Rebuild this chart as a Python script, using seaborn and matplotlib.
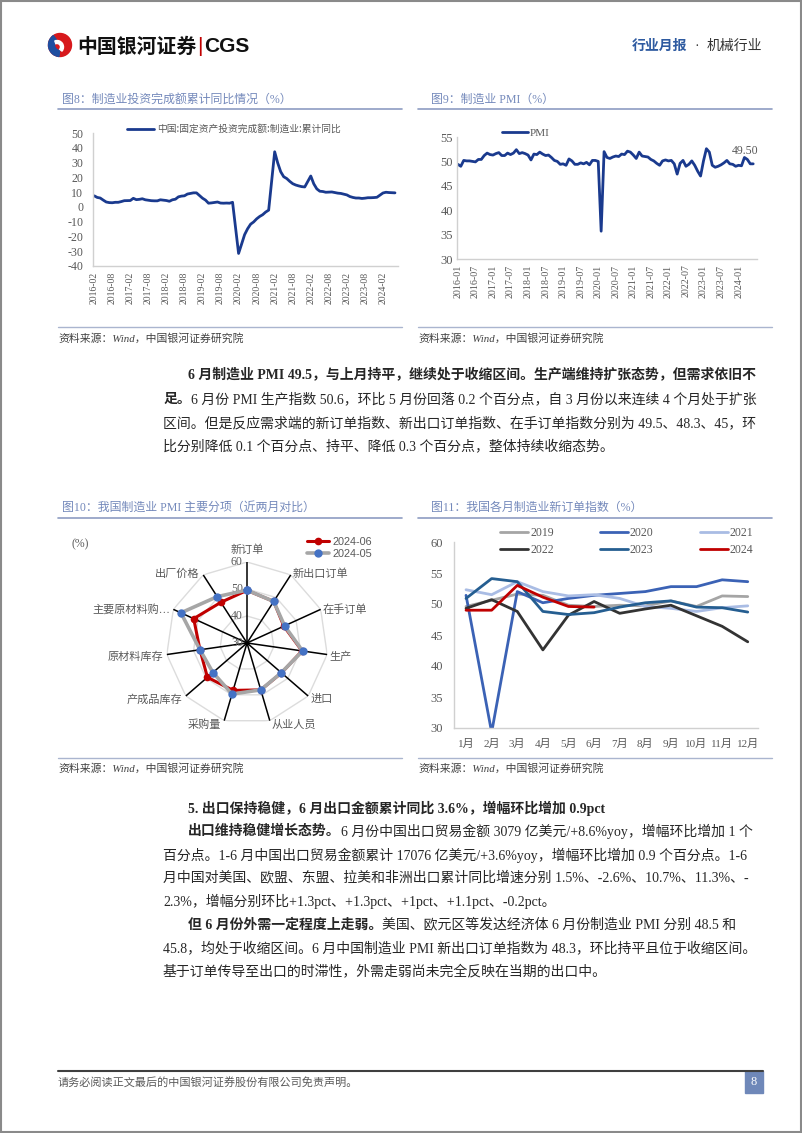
import numpy as np
import pandas as pd
import matplotlib
matplotlib.use("Agg")
import matplotlib.pyplot as plt
import seaborn as sns
from matplotlib.patches import Rectangle, Circle, Wedge

W, H = 802, 1133

# ---------------- data ----------------
# Fig 8: manufacturing FAI, cumulative YoY (%), Feb..Dec each year (no Jan), 2024 to Jun
fai_years = [2016, 2017, 2018, 2019, 2020, 2021, 2022, 2023, 2024]
fai_2016 = [7.5, 6.4, 6.0, 4.6, 3.3, 2.9, 2.8, 3.1, 3.1, 3.6, 4.2]
fai_2017 = [4.3, 5.8, 4.9, 5.1, 5.5, 4.8, 4.5, 4.2, 4.1, 4.1, 4.8]
fai_2018 = [4.3, 3.8, 4.8, 5.2, 6.8, 7.3, 7.5, 8.7, 9.1, 9.5, 9.5]
fai_2019 = [5.9, 4.6, 2.5, 2.7, 3.0, 3.3, 2.6, 2.5, 2.6, 2.5, 3.1]
fai_2020 = [-31.5, -25.2, -18.8, -14.8, -11.7, -10.2, -8.1, -6.5, -5.3, -3.5, -2.2]
fai_2021 = [37.3, 29.8, 23.8, 20.4, 19.2, 17.3, 15.7, 14.8, 14.2, 13.7, 13.5]
fai_2022 = [20.9, 15.6, 12.2, 10.6, 10.4, 9.9, 10.0, 10.1, 9.7, 9.3, 9.1]
fai_2023 = [8.1, 7.0, 6.4, 6.0, 6.0, 5.7, 5.9, 6.2, 6.2, 6.3, 6.5]
fai_2024 = [9.4, 9.9, 9.7, 9.6, 9.5]
fai_ticklabels = ["2016-02", "2016-08", "2017-02", "2017-08", "2018-02", "2018-08",
                  "2019-02", "2019-08", "2020-02", "2020-08", "2021-02", "2021-08",
                  "2022-02", "2022-08", "2023-02", "2023-08", "2024-02"]
fai_label = "中国:固定资产投资完成额:制造业:累计同比"

# Fig 9: manufacturing PMI monthly 2016-01 .. 2024-06
pmi_2016 = [49.4, 49.0, 50.2, 50.1, 50.1, 50.0, 49.9, 50.4, 50.4, 51.2, 51.7, 51.4]
pmi_2017 = [51.3, 51.6, 51.8, 51.2, 51.2, 51.7, 51.4, 51.7, 52.4, 51.6, 51.8, 51.6]
pmi_2018 = [51.3, 50.3, 51.5, 51.4, 51.9, 51.5, 51.2, 51.3, 50.8, 50.2, 50.0, 49.4]
pmi_2019 = [49.5, 49.2, 50.5, 50.1, 49.4, 49.4, 49.7, 49.5, 49.8, 49.3, 50.2, 50.2]
pmi_2020 = [50.0, 35.7, 52.0, 50.8, 50.6, 50.9, 51.1, 51.0, 51.5, 51.4, 52.1, 51.9]
pmi_2021 = [51.3, 50.6, 51.9, 51.1, 51.0, 50.9, 50.4, 50.1, 49.6, 49.2, 50.1, 50.3]
pmi_2022 = [50.1, 50.2, 49.5, 47.4, 49.6, 50.2, 49.0, 49.4, 50.1, 49.2, 48.0, 47.0]
pmi_2023 = [50.1, 52.6, 51.9, 49.2, 48.8, 49.0, 49.3, 49.7, 50.2, 49.5, 49.4, 49.0]
pmi_2024 = [49.2, 49.1, 50.8, 50.4, 49.5, 49.5]
pmi_ticklabels = ["2016-01", "2016-07", "2017-01", "2017-07", "2018-01", "2018-07",
                  "2019-01", "2019-07", "2020-01", "2020-07", "2021-01", "2021-07",
                  "2022-01", "2022-07", "2023-01", "2023-07", "2024-01"]

# Fig 10: PMI sub-indices, radar
radar_cats = ["新订单", "新出口订单", "在手订单", "生产", "进口", "从业人员",
              "采购量", "产成品库存", "原材料库存", "主要原材料购…", "出厂价格"]
radar_jun = [49.5, 48.3, 45.0, 50.6, 46.9, 48.1, 48.3, 49.4, 47.6, 51.7, 47.9]
radar_may = [49.6, 48.3, 45.3, 50.8, 46.8, 48.1, 49.7, 46.7, 47.6, 56.9, 50.4]
radar_ticks = [30, 40, 50, 60]

# Fig 11: new order index by month
months_cn = ["1月", "2月", "3月", "4月", "5月", "6月", "7月", "8月", "9月", "10月", "11月", "12月"]
no_2019 = [49.6, 50.6, 51.6, 51.4, 49.8, 49.6, 49.8, 49.7, 50.5, 49.6, 51.3, 51.2]
no_2020 = [51.4, 29.3, 52.0, 50.2, 50.9, 51.4, 51.7, 52.0, 52.8, 52.8, 53.9, 53.6]
no_2021 = [52.3, 51.5, 53.6, 52.0, 51.3, 51.5, 50.9, 49.6, 49.3, 48.8, 49.4, 49.7]
no_2022 = [49.3, 50.7, 48.8, 42.6, 48.2, 50.4, 48.5, 49.2, 49.8, 48.1, 46.4, 43.9]
no_2023 = [50.9, 54.1, 53.6, 48.8, 48.3, 48.6, 49.5, 50.2, 50.5, 49.5, 49.4, 48.7]
no_2024 = [49.0, 49.0, 53.0, 51.1, 49.6, 49.5]
no_colors = {"2019": "#a5a5a5", "2020": "#3b62b5", "2021": "#a9bce4",
             "2022": "#333333", "2023": "#255e91", "2024": "#c00000"}

# ---------------- style ----------------
sns.set_theme(style="white")
plt.rcParams["font.family"] = ["Liberation Serif", "Noto Sans CJK SC", "DejaVu Sans"]
plt.rcParams["axes.unicode_minus"] = False

NAVY = "#1a3a8e"
GRAY_T = "#595959"
AX_C = "#d0d0d0"
TITLE_C = "#7489bb"
RULE_C = "#8d9cc2"
TEXT_C = "#262626"

fig = plt.figure(figsize=(W / 100, H / 100), dpi=100)
page = fig.add_axes([0, 0, 1, 1])
page.set_xlim(0, W)
page.set_ylim(H, 0)
page.axis("off")


def px_axes(x0, y0, x1, y1, **kw):
    return fig.add_axes([x0 / W, 1 - y1 / H, (x1 - x0) / W, (y1 - y0) / H], **kw)


def style_axes(ax):
    ax.patch.set_alpha(0)
    for s in ["top", "right"]:
        ax.spines[s].set_visible(False)
    for s in ["left", "bottom"]:
        ax.spines[s].set_color(AX_C)
        ax.spines[s].set_linewidth(1.0)
    ax.tick_params(length=0, colors=GRAY_T)
    ax.set_xlabel("")
    ax.set_ylabel("")


# ---------------- header ----------------
page.add_patch(Rectangle((0.75, 0.75), W - 1.5, H - 1.5, fill=False, ec="#8a8a8a", lw=1.5))
page.add_patch(Circle((60, 45), 11.5, color="#d7191c"))
page.add_patch(Wedge((60, 45), 11.5, 95, 235, width=6, color="#1f4ea0"))
page.add_patch(Wedge((57, 47), 6.5, 250, 40, width=3, color="white"))
page.text(77, 46, "中国银河证券", fontsize=14.3, fontweight="bold", color="#111111",
          va="center", ha="left", family=["Noto Sans CJK SC"])
page.text(200, 46, "|", fontsize=15, color="#c00000", va="center", ha="center",
          family=["Liberation Sans"])
page.text(204, 46, "CGS", fontsize=15, fontweight="bold", color="#111111",
          va="center", ha="left", family=["Liberation Sans"])
page.text(632, 46, "行业月报", fontsize=10, fontweight="bold", color="#2e5aa0",
          va="center", ha="left", family=["Noto Sans CJK SC"])
page.text(697, 46, "·", fontsize=10, color="#333333", va="center", ha="center")
page.text(762, 46, "机械行业", fontsize=10, color="#333333",
          va="center", ha="right", family=["Noto Sans CJK SC"])

# ---------------- figure titles / rules / sources ----------------
def fig_title(x, y, s):
    page.text(x, y, s, fontsize=8.6, color=TITLE_C, va="center", ha="left")


fig_title(62, 100, "图8：制造业投资完成额累计同比情况（%）")
fig_title(431, 100, "图9：制造业 PMI（%）")
fig_title(62, 508, "图10：我国制造业 PMI 主要分项（近两月对比）")
fig_title(431, 508, "图11：我国各月制造业新订单指数（%）")
for (x0, x1, y) in [(58, 402, 109), (418, 772, 109), (58, 402, 518), (418, 772, 518)]:
    page.plot([x0, x1], [y, y], color=RULE_C, lw=1.2)
for (x0, x1, y) in [(58, 402, 327), (418, 772, 327), (58, 402, 758), (418, 772, 758)]:
    page.plot([x0, x1], [y, y], color="#aab5cf", lw=1.0)
for (x, y) in [(58, 338), (418, 338), (58, 768), (418, 768)]:
    page.text(x, y, "资料来源：Wind，中国银河证券研究院", fontsize=7.8, color="#404040",
              style="italic", va="center", ha="left")

# ---------------- Fig 8 ----------------
fai_rows = [fai_2016, fai_2017, fai_2018, fai_2019, fai_2020, fai_2021, fai_2022, fai_2023, fai_2024]
fx, fy = [], []
for yr, vals in zip(fai_years, fai_rows):
    for i, v in enumerate(vals):
        fx.append((yr - 2016) * 12 + i)
        fy.append(v)
df8 = pd.DataFrame({"m": fx, "v": fy})
ax8 = px_axes(93, 133, 398, 266)
sns.lineplot(data=df8, x="m", y="v", ax=ax8, color=NAVY, lw=2.0, label=fai_label)
style_axes(ax8)
ax8.set_ylim(-40, 50)
ax8.set_yticks(range(-40, 51, 10))
ax8.set_xlim(-0.4, 101)
ax8.set_xticks(range(0, 97, 6))
ax8.set_xticklabels(fai_ticklabels, rotation=90, fontsize=7)
ax8.tick_params(axis="y", labelsize=8.6, pad=7)
ax8.tick_params(axis="x", pad=4)
ax8.legend(loc="center left", bbox_to_anchor=((127 - 93) / 305, 1 + 4 / 133), frameon=False,
           fontsize=7, handlelength=2.8, handletextpad=0.3, borderpad=0, borderaxespad=0,
           labelcolor=GRAY_T, prop={"family": ["Noto Sans CJK SC"], "size": 7})

# ---------------- Fig 9 ----------------
pmi_vals = pmi_2016 + pmi_2017 + pmi_2018 + pmi_2019 + pmi_2020 + pmi_2021 + pmi_2022 + pmi_2023 + pmi_2024
df9 = pd.DataFrame({"m": np.arange(len(pmi_vals)), "v": pmi_vals})
ax9 = px_axes(457, 137, 757, 259)
sns.lineplot(data=df9, x="m", y="v", ax=ax9, color=NAVY, lw=2.0, label="PMI")
style_axes(ax9)
ax9.set_ylim(30, 55)
ax9.set_yticks(range(30, 56, 5))
ax9.set_xlim(-0.3, 102.3)
ax9.set_xticks(range(0, 97, 6))
ax9.set_xticklabels(pmi_ticklabels, rotation=90, fontsize=7.2)
ax9.tick_params(axis="y", labelsize=9, pad=3)
ax9.tick_params(axis="x", pad=4)
ax9.legend(loc="center left", bbox_to_anchor=((502 - 457) / 300, 1 + 4 / 122), frameon=False,
           fontsize=8, handlelength=2.3, handletextpad=0.2, borderpad=0, borderaxespad=0,
           labelcolor=GRAY_T)
last = len(pmi_vals) - 1
ax9.annotate(f"{pmi_vals[last]:.2f}", xy=(last, pmi_vals[last]), xytext=(-6, 5),
             textcoords="offset points", ha="center", va="bottom", fontsize=8.5, color=GRAY_T)

# ---------------- Fig 10 (radar) ----------------
n = len(radar_cats)
theta = np.linspace(0, 2 * np.pi, n, endpoint=False)
th_c = np.append(theta, theta[0])
pax = px_axes(166, 562, 328, 724, projection="polar")
pax.set_theta_zero_location("N")
pax.set_theta_direction(-1)
pax.set_ylim(30, 60)
pax.grid(False)
pax.spines["polar"].set_visible(False)
pax.set_xticks([])
pax.set_yticks([])
pax.patch.set_alpha(0)
for r in radar_ticks[1:]:
    pax.plot(th_c, [r] * (n + 1), color="#dcdcdc", lw=1.0, zorder=1)
for t in theta:
    pax.plot([t, t], [30, 60], color="black", lw=1.1, zorder=2)
pax.plot(th_c, radar_jun + radar_jun[:1], color="#c00000", lw=2.2, marker="o", ms=4.5,
         zorder=3, label="2024-06")
pax.plot(th_c, radar_may + radar_may[:1], color="#a6a6a6", lw=2.6, marker="o", ms=5,
         mfc="#4472c4", mec="#4472c4", zorder=4, label="2024-05")
for v in radar_ticks:
    pax.annotate(str(v), xy=(0, v), xytext=(-3, 0), textcoords="offset points",
                 ha="right", va="center", fontsize=8.5, color=GRAY_T)
for t, lab in zip(theta, radar_cats):
    s, c = np.sin(t), np.cos(t)
    if abs(s) < 0.05:
        ha, off = "center", (0, 5)
    elif s > 0:
        ha, off = "left", (1.5, 2.0 * c - 1)
    else:
        ha, off = "right", (-2.5, 2.0 * c - 1)
    pax.annotate(lab, xy=(t, 60), xytext=off, textcoords="offset points", ha=ha,
                 va="bottom" if ha == "center" else "center", fontsize=8, color=GRAY_T,
                 annotation_clip=False)
page.text(80, 544, "(%)", fontsize=8.5, color=GRAY_T, va="center", ha="center")
fig.legend(*pax.get_legend_handles_labels(), loc="center left",
           bbox_to_anchor=(302 / W, 1 - 548 / H), frameon=False, handlelength=2.0,
           handletextpad=0.3, labelspacing=0.15, borderpad=0,
           prop={"family": ["Liberation Sans"], "size": 7.8}, labelcolor=GRAY_T)

# ---------------- Fig 11 ----------------
rows11 = []
for yr, vals in zip(["2019", "2020", "2021", "2022", "2023", "2024"],
                    [no_2019, no_2020, no_2021, no_2022, no_2023, no_2024]):
    for i, v in enumerate(vals):
        rows11.append({"m": i, "v": v, "year": yr})
df11 = pd.DataFrame(rows11)
ax11 = px_axes(454, 542, 758, 728)
sns.lineplot(data=df11, x="m", y="v", hue="year", palette=no_colors, lw=2.0, ax=ax11)
style_axes(ax11)
ax11.set_ylim(30, 60)
ax11.set_yticks(range(30, 61, 5))
ax11.set_xlim(-0.47, 11.4)
ax11.set_xticks(range(12))
ax11.set_xticklabels(months_cn, fontsize=8)
ax11.tick_params(axis="y", labelsize=9, pad=8)
ax11.tick_params(axis="x", pad=8)
hs, ls = ax11.get_legend_handles_labels()
order = [0, 3, 1, 4, 2, 5]
ax11.legend([hs[i] for i in order], [ls[i] for i in order], ncol=3, loc="center left",
            bbox_to_anchor=((500 - 454) / 304, 1 + 0.5 / 186), frameon=False, fontsize=8.5,
            handlelength=2.4, handletextpad=0.15, columnspacing=3.9, labelspacing=0.45,
            borderpad=0, borderaxespad=0, labelcolor=GRAY_T)

# ---------------- body text ----------------
fig.canvas.draw()
renderer = fig.canvas.get_renderer()
BODY = 10.0


def rich_line(x, y, runs):
    cx = x
    for s, bold in runs:
        t = page.text(cx, y, s, fontsize=BODY, fontweight="bold" if bold else "normal",
                      color=TEXT_C, va="center", ha="left")
        bb = t.get_window_extent(renderer=renderer)
        cx += bb.width


rich_line(188, 375, [("6 月制造业 PMI 49.5，与上月持平，继续处于收缩区间。生产端维持扩张态势，但需求依旧不", True)])
rich_line(163, 399, [("足。", True), ("6 月份 PMI 生产指数 50.6，环比 5 月份回落 0.2 个百分点，自 3 月份以来连续 4 个月处于扩张", False)])
rich_line(163, 423, [("区间。但是反应需求端的新订单指数、新出口订单指数、在手订单指数分别为 49.5、48.3、45，环", False)])
rich_line(163, 446, [("比分别降低 0.1 个百分点、持平、降低 0.3 个百分点，整体持续收缩态势。", False)])

rich_line(188, 808, [("5. 出口保持稳健，6 月出口金额累计同比 3.6%，增幅环比增加 0.9pct", True)])
rich_line(188, 831, [("出口维持稳健增长态势。", True), ("6 月份中国出口贸易金额 3079 亿美元/+8.6%yoy，增幅环比增加 1 个", False)])
rich_line(163, 855, [("百分点。1-6 月中国出口贸易金额累计 17076 亿美元/+3.6%yoy，增幅环比增加 0.9 个百分点。1-6", False)])
rich_line(163, 878, [("月中国对美国、欧盟、东盟、拉美和非洲出口累计同比增速分别 1.5%、-2.6%、10.7%、11.3%、-", False)])
rich_line(163, 901, [("2.3%，增幅分别环比+1.3pct、+1.3pct、+1pct、+1.1pct、-0.2pct。", False)])
rich_line(188, 925, [("但 6 月份外需一定程度上走弱。", True), ("美国、欧元区等发达经济体 6 月份制造业 PMI 分别 48.5 和", False)])
rich_line(163, 948, [("45.8，均处于收缩区间。6 月中国制造业 PMI 新出口订单指数为 48.3，环比持平且位于收缩区间。", False)])
rich_line(163, 971, [("基于订单传导至出口的时滞性，外需走弱尚未完全反映在当期的出口中。", False)])

# ---------------- footer ----------------
page.plot([58, 763], [1071, 1071], color="#3f3f3f", lw=1.5)
page.text(58, 1083, "请务必阅读正文最后的中国银河证券股份有限公司免责声明。", fontsize=8,
          color=GRAY_T, va="center", ha="left")
page.add_patch(Rectangle((745, 1071), 18, 22, color="#6f88b9"))
page.text(754, 1082, "8", fontsize=9, color="white", va="center", ha="center")

fig.savefig("out.png", dpi=100)
